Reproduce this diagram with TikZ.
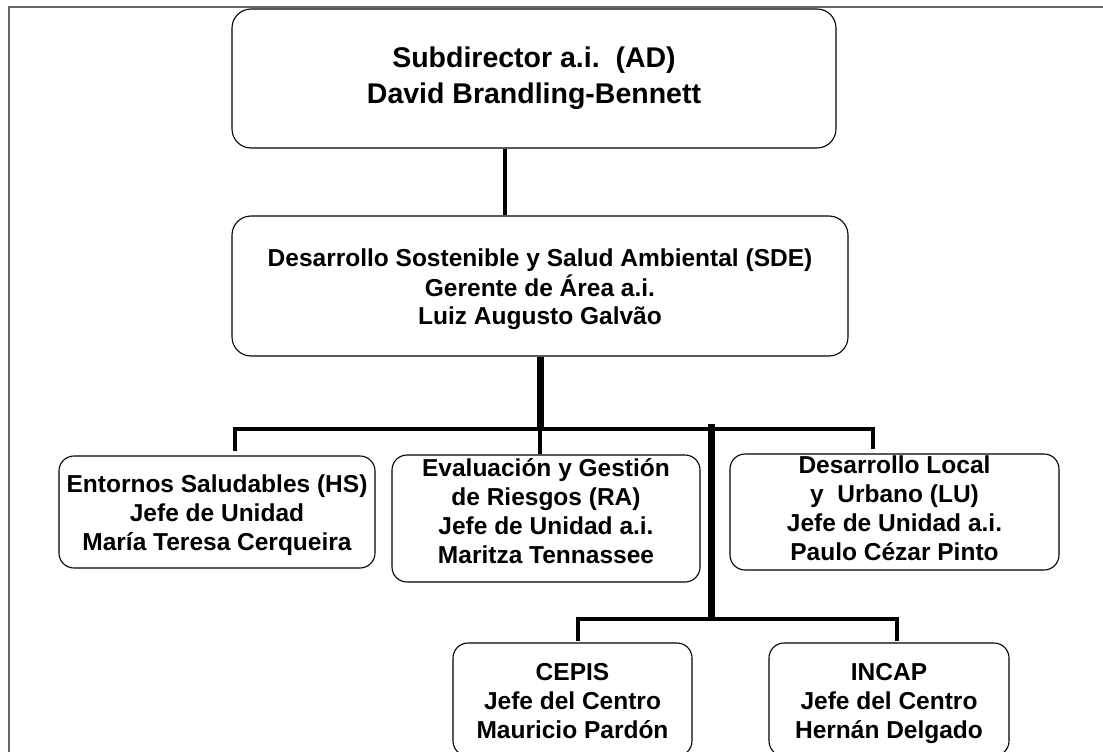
\documentclass[tikz,border=0pt]{standalone}
\usepackage{fontspec}
\setmainfont{Liberation Sans}
\newcommand\boxtext[2]{\raisebox{#1}[\height][\depth]{\begin{tabular}{@{}c@{}}#2\end{tabular}}}
\begin{document}
\frenchspacing
\begin{tikzpicture}[x=1pt,y=-1pt,
  box/.style={draw, line width=1.1pt, rounded corners=15pt, inner sep=0pt,
    font=\bfseries\fontsize{24.5}{29}\selectfont},
  link/.style={line width=4pt},
  bus/.style={line width=4.5pt},
  trunk/.style={line width=7pt},
  frame/.style={line width=1.5pt, black!60}]
\useasboundingbox (0,0) rectangle (1103,752);
\clip (0,0) rectangle (1103,752);
\draw[frame] (1103,7) -- (9,7) -- (9,752);

\node[box, rounded corners=19pt, minimum width=604pt, minimum height=139pt,
  font=\bfseries\fontsize{28.5}{35}\selectfont] (ad) at (534,78.5)
  {\boxtext{0pt}{Subdirector a.i.\ \ (AD)\\David Brandling-Bennett}};
\node[box, rounded corners=19pt, minimum width=616pt, minimum height=140pt,
  font=\bfseries\fontsize{24.5}{28}\selectfont] (sde) at (540,286)
  {\boxtext{-4pt}{Desarrollo Sostenible y Salud Ambiental (SDE)\\Gerente de Área a.i.\\Luiz Augusto Galvão}};
\node[box, minimum width=316pt, minimum height=112pt] (hs) at (217,512)
  {\boxtext{-3.5pt}{Entornos Saludables (HS)\\Jefe de Unidad\\María Teresa Cerqueira}};
\node[box, minimum width=308pt, minimum height=127pt] (ra) at (546,518.5)
  {\boxtext{4pt}{Evaluación y Gestión\\de Riesgos (RA)\\Jefe de Unidad a.i.\\Maritza Tennassee}};
\node[box, minimum width=329pt, minimum height=112pt] (lu) at (894.5,512)
  {\boxtext{1pt}{Desarrollo Local\\y\ \ Urbano (LU)\\Jefe de Unidad a.i.\\Paulo Cézar Pinto}};
\node[box, minimum width=239pt, minimum height=113pt] (cepis) at (572.5,699.5)
  {\boxtext{-4pt}{CEPIS\\Jefe del Centro\\Mauricio Pardón}};
\node[box, minimum width=240pt, minimum height=113pt] (incap) at (889,699.5)
  {\boxtext{-4pt}{INCAP\\Jefe del Centro\\Hernán Delgado}};

\coordinate (x1) at (505,0);
\draw[link] (ad.south -| x1) -- (sde.north -| x1);

\coordinate (j1) at (540,429);
\coordinate (dHS) at (235,429);
\coordinate (dLU) at (873,429);
\draw[trunk] (sde.south -| j1) -- (j1);
\draw[link] (j1) -- (ra.north -| j1);
\draw[bus] ([yshift=4pt]hs.north -| dHS) -- (dHS) -- (dLU) -- ([yshift=4pt]lu.north -| dLU);

\coordinate (t2) at (711,424);
\coordinate (j2) at (711,619);
\coordinate (dC) at (578,619);
\coordinate (dI) at (897,619);
\draw[trunk] (t2) -- (j2);
\draw[bus] ([yshift=1pt]cepis.north -| dC) -- (dC) -- (dI) -- ([yshift=1pt]incap.north -| dI);
\end{tikzpicture}
\end{document}
